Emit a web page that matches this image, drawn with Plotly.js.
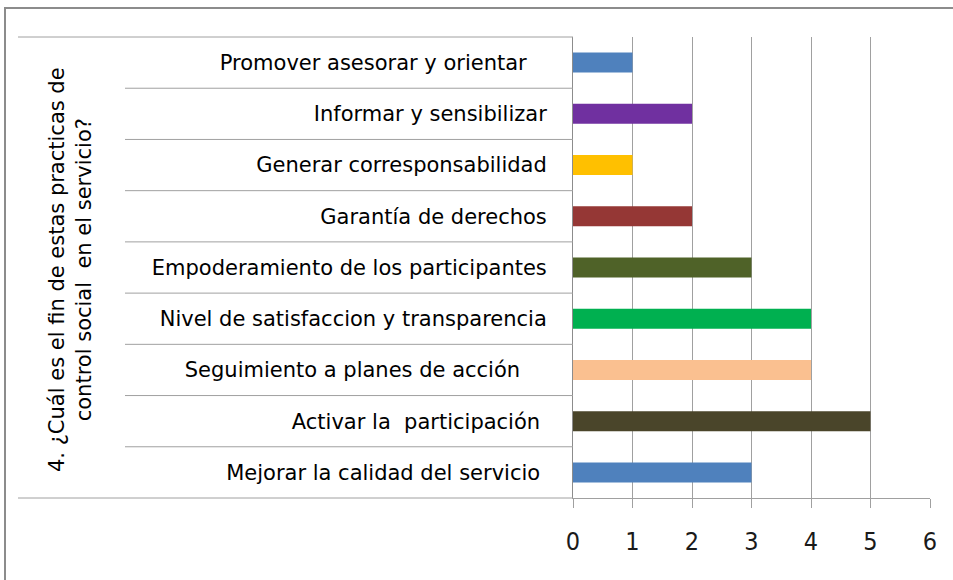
<!DOCTYPE html>
<html>
<head>
<meta charset="utf-8">
<script src="https://cdn.plot.ly/plotly-3.0.1.min.js"></script>
<style>
html, body { margin: 0; padding: 0; background: #ffffff; }
#chart { width: 953px; height: 580px; }
</style>
</head>
<body>
<div id="chart"></div>
<script>
// ---- data ----
var categories = [
  "Promover asesorar y orientar\u00a0\u00a0\u00a0",
  "Informar y sensibilizar",
  "Generar corresponsabilidad",
  "Garantía de derechos",
  "Empoderamiento de los participantes",
  "Nivel de satisfaccion y transparencia",
  "Seguimiento a planes de acción\u00a0\u00a0\u00a0\u00a0",
  "Activar la\u00a0\u00a0participación\u00a0",
  "Mejorar la calidad del servicio\u00a0"
];
var values = [1, 2, 1, 2, 3, 4, 4, 5, 3];
var barColors = ["#4F81BD", "#7030A0", "#FFC000", "#953735", "#4F6228", "#00B050", "#FAC090", "#4A452A", "#4F81BD"];
var xTicks = [0, 1, 2, 3, 4, 5, 6];
var yTitle = "4. ¿Cuál es el fin de estas practicas de<br>control social \u00a0en el servicio?";

// ---- geometry helpers (paper coordinates relative to plot area) ----
var W = 953, H = 580;
var plotL = 573, plotR = 930, plotT = 37, plotB = 498;
var pw = plotR - plotL, ph = plotB - plotT;
function px(x) { return (x - plotL) / pw; }
function py(y) { return (plotB - y) / ph; }

var gridColor = "#A0A0A0";
var FONT = "'DejaVu Sans', 'Liberation Sans', sans-serif";
var NUMFONT = "'Liberation Sans Narrow', 'DejaVu Sans Condensed', 'Liberation Sans', sans-serif";
var shapes = [];
// outer chart border (right/bottom edges fall outside the picture)
shapes.push({type: "rect", xref: "paper", yref: "paper",
  x0: px(5), x1: px(1000), y0: py(620), y1: py(8),
  line: {color: "#8C8C8C", width: 2}, fillcolor: "rgba(0,0,0,0)", layer: "below"});
// top and bottom lines across whole category area
shapes.push({type: "line", xref: "paper", yref: "paper", x0: px(18), x1: 0, y0: 1, y1: 1,
  line: {color: gridColor, width: 1}});
shapes.push({type: "line", xref: "paper", yref: "paper", x0: px(18), x1: 0, y0: 0, y1: 0,
  line: {color: gridColor, width: 1}});
// separators between categories (inner level)
for (var i = 1; i < categories.length; i++) {
  shapes.push({type: "line", xref: "paper", yref: "y domain",
    x0: px(125), x1: 0, y0: i / categories.length, y1: i / categories.length,
    line: {color: gridColor, width: 1}});
}

var trace = {
  type: "bar",
  orientation: "h",
  x: values,
  y: categories,
  marker: {color: barColors, line: {width: 0}},
  hoverinfo: "x+y"
};

var layout = {
  width: W, height: H,
  margin: {l: plotL, r: W - plotR, t: plotT, b: H - plotB, pad: 0},
  paper_bgcolor: "#ffffff",
  plot_bgcolor: "#ffffff",
  font: {family: FONT, size: 21, color: "#000000"},
  showlegend: false,
  bargap: 0.61,
  xaxis: {
    range: [0, 6],
    tickvals: xTicks,
    ticktext: xTicks.map(String),
    showgrid: true, gridcolor: gridColor, gridwidth: 1,
    zeroline: false,
    showline: true, linecolor: gridColor, linewidth: 1,
    ticks: "outside", ticklen: 9, tickcolor: gridColor, tickwidth: 1,
    ticklabelstandoff: 12,
    tickfont: {family: NUMFONT, size: 25, color: "#1a1a1a"},
    fixedrange: true
  },
  yaxis: {
    type: "category",
    autorange: "reversed",
    showgrid: false,
    zeroline: false,
    showline: true, linecolor: "#8C8C8C", linewidth: 1,
    ticks: "",
    ticklabelstandoff: 21,
    tickfont: {family: FONT, size: 21, color: "#000000"},
    fixedrange: true
  },
  shapes: shapes,
  annotations: [{
    xref: "paper", yref: "paper",
    x: px(70), y: py(269),
    text: yTitle,
    textangle: -90,
    showarrow: false,
    font: {family: FONT, size: 21, color: "#000000"},
    xanchor: "center", yanchor: "middle"
  }]
};

Plotly.newPlot("chart", [trace], layout, {displayModeBar: false, staticPlot: true});
</script>
</body>
</html>
